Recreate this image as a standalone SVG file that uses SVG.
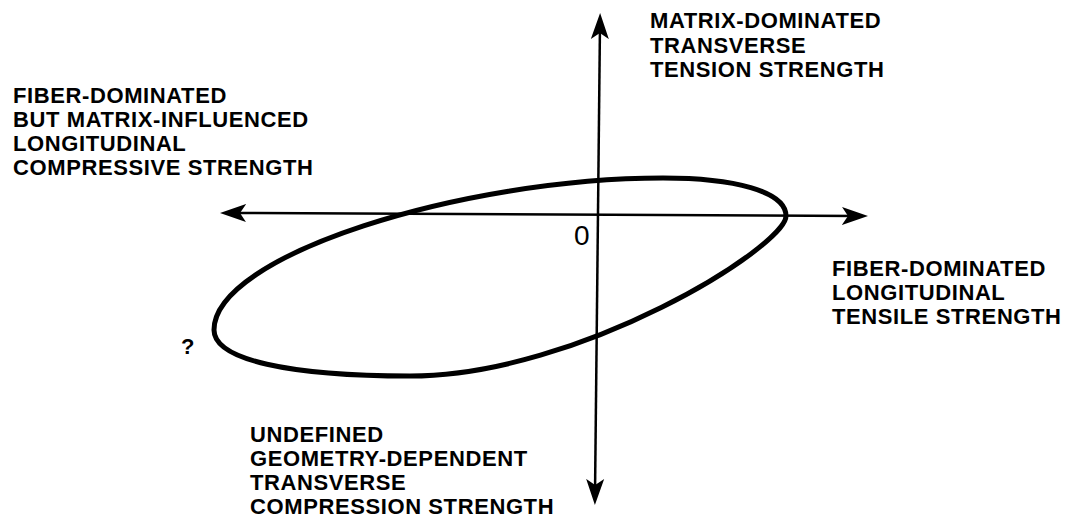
<svg xmlns="http://www.w3.org/2000/svg" width="1065" height="519" viewBox="0 0 1065 519">
  <style>
    .lbl { font-family: "Liberation Sans", Arial, sans-serif; font-weight: bold; font-size: 22px; letter-spacing: 0.6px; fill: #000; }
    .axis { stroke: #000; stroke-width: 2.5; fill: none; }
    .curve { stroke: #000; stroke-width: 5; fill: none; stroke-linejoin: round; }
  </style>
  <defs>
    <marker id="arrow" markerUnits="userSpaceOnUse" viewBox="0 -10 28 20" refX="16" refY="0" markerWidth="28" markerHeight="20" orient="auto-start-reverse">
      <path d="M0,-9 L26,0 L0,9 L6,0 z" fill="#000"/>
    </marker>
  </defs>
  <rect width="1065" height="519" fill="#fff"/>

  <g id="connectors">
    <line class="axis" x1="230" y1="213" x2="858" y2="216" marker-start="url(#arrow)" marker-end="url(#arrow)"/>
    <line class="axis" x1="600" y1="23" x2="595" y2="495" marker-start="url(#arrow)" marker-end="url(#arrow)"/>
  </g>

  <g id="failure-envelope">
    <path class="curve" d="M214,330 C214,255 463,178 663,178 C733,178 786,191 786,216 C786,246 580,376 410,376 C290,376 214,360 214,330 Z"/>
  </g>

  <g id="origin">
    <text x="574" y="245" font-family="Liberation Sans, Arial, sans-serif" font-size="28">0</text>
  </g>

  <g id="label-top">
    <text class="lbl" x="650" y="28">MATRIX-DOMINATED</text>
    <text class="lbl" x="650" y="52.5">TRANSVERSE</text>
    <text class="lbl" x="650" y="77">TENSION STRENGTH</text>
  </g>

  <g id="label-left">
    <text class="lbl" x="13" y="103">FIBER-DOMINATED</text>
    <text class="lbl" x="13" y="127">BUT MATRIX-INFLUENCED</text>
    <text class="lbl" x="13" y="151">LONGITUDINAL</text>
    <text class="lbl" x="13" y="175">COMPRESSIVE STRENGTH</text>
  </g>

  <g id="label-right">
    <text class="lbl" x="832" y="276">FIBER-DOMINATED</text>
    <text class="lbl" x="832" y="300">LONGITUDINAL</text>
    <text class="lbl" x="832" y="324">TENSILE STRENGTH</text>
  </g>

  <g id="label-bottom">
    <text class="lbl" x="250" y="442">UNDEFINED</text>
    <text class="lbl" x="250" y="466">GEOMETRY-DEPENDENT</text>
    <text class="lbl" x="250" y="490">TRANSVERSE</text>
    <text class="lbl" x="250" y="514">COMPRESSION STRENGTH</text>
  </g>

  <g id="label-question">
    <text class="lbl" x="181" y="354" style="letter-spacing:0">?</text>
  </g>
</svg>
